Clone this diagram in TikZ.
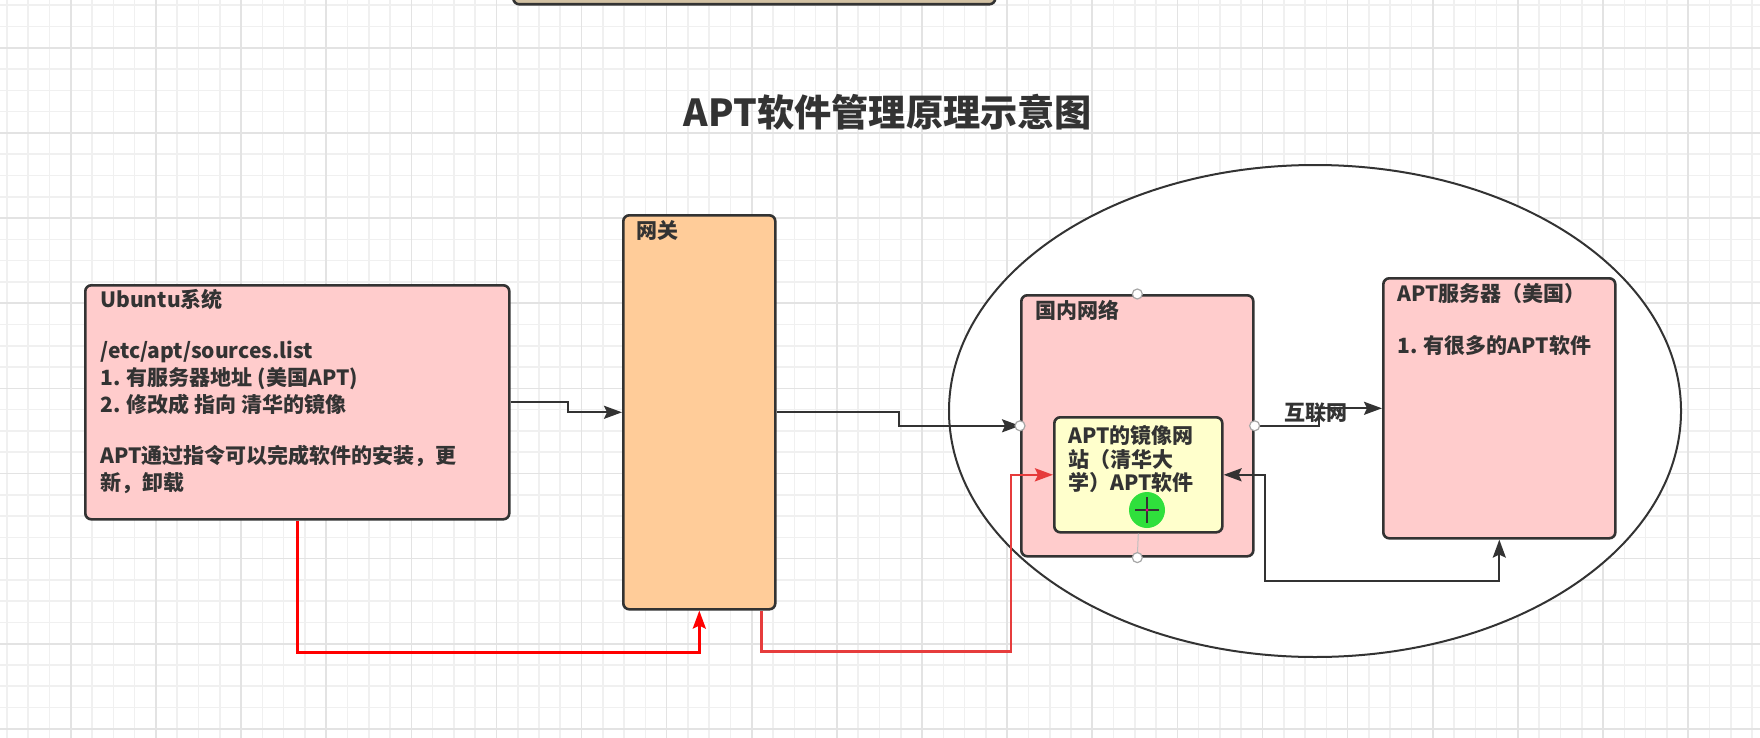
\documentclass[tikz,border=0pt]{standalone}
\usepackage{fontspec}
\setmainfont{Noto Sans CJK SC}
\usepackage{tikz}
\usetikzlibrary{arrows.meta,positioning,calc,shapes.geometric}
\usepackage{xcolor}
\definecolor{ink}{HTML}{333333}
\definecolor{pinkbg}{HTML}{FFCCCC}
\definecolor{peachbg}{HTML}{FFCC99}
\definecolor{yellowbg}{HTML}{FFFFCC}
\definecolor{tanbg}{HTML}{D2C1A3}
\definecolor{gridmin}{HTML}{F0F0F0}
\definecolor{gridmaj}{HTML}{E3E3E3}
\definecolor{redA}{HTML}{FF0000}
\definecolor{redB}{HTML}{E63C3C}
\definecolor{cursorgr}{HTML}{2FE03C}

\begin{document}
\begin{tikzpicture}[x=0.5pt,y=-0.5pt,
  box/.style={draw=ink,line width=1.3pt,rounded corners=3pt,anchor=north west,inner sep=0pt},
  txt/.style={anchor=north west,inner sep=0pt,align=left,text=ink,font=\bfseries\fontsize{10.5pt}{13.5pt}\selectfont},
  conn/.style={draw=ink,line width=1.1pt},
  redconn/.style={line width=1.3pt},
  handle/.style={circle,draw=gray!70,fill=white,line width=0.6pt,inner sep=0pt,minimum size=5pt},
  >={Stealth[length=9pt,width=6.5pt,inset=1.5pt]}]
  \useasboundingbox (0,0) rectangle (1760,738);
  \clip (0,0) rectangle (1760,738);
  % grid
  \foreach \i in {0,...,82} \draw[gridmin,line width=0.8pt] ({7+21.28*\i},0) -- ++(0,738);
  \foreach \i in {0,...,34} \draw[gridmin,line width=0.8pt] (0,{5.3+21.28*\i}) -- ++(1760,0);
  \foreach \i in {0,...,19} \draw[gridmaj,line width=0.8pt] ({70.84+85.12*\i},0) -- ++(0,738);
  \foreach \i in {0,...,8} \draw[gridmaj,line width=0.8pt] (0,{47.9+85.12*\i}) -- ++(1760,0);

  \node[box,fill=tanbg,minimum width=241pt,minimum height=12pt] (topbox) at (512,-21) {};
  \node[text=ink,font=\bfseries\fontsize{18.6pt}{22pt}\selectfont] (title) at (888,112) {APT软件管理原理示意图};

  \node[ellipse,draw=ink,fill=white,line width=1pt,minimum width=366pt,minimum height=246pt,inner sep=0pt] (region) at (1315,411) {};

  \node[box,fill=pinkbg,minimum width=212pt,minimum height=117pt] (ubuntu) at (84,284) {};
  \node[box,fill=peachbg,minimum width=76pt,minimum height=197pt] (gateway) at (622,214) {};
  \node[box,fill=pinkbg,minimum width=116pt,minimum height=130.5pt] (domestic) at (1020,294) {};
  \node[box,fill=yellowbg,minimum width=84pt,minimum height=57.5pt] (mirror) at (1053,416) {};
  \node[box,fill=pinkbg,minimum width=116pt,minimum height=130pt] (server) at (1382,277) {};

  \node[txt] (ubuntutxt) at (100,289) {Ubuntu系统\\[12pt]/etc/apt/sources.list\\1. 有服务器地址 (美国APT)\\2. 修改成 指向 清华的镜像\\[12pt]APT通过指令可以完成软件的安装，更\\新，卸载};
  \node[txt] (gatewaytxt) at (636,220) {网关};
  \node[txt] (domestictxt) at (1035,300) {国内网络};
  \node[txt,font=\bfseries\fontsize{10.5pt}{11.75pt}\selectfont] (mirrortxt) at (1068,425) {APT的镜像网\\站（清华大\\学）APT软件};
  \node[txt,font=\bfseries\fontsize{10.5pt}{13pt}\selectfont] (servertxt) at (1397,283) {APT服务器（美国）\\[13pt]1. 有很多的APT软件};
  \node[text=ink,font=\bfseries\fontsize{10.5pt}{12pt}\selectfont,inner sep=0pt] (inet) at (1316,413) {互联网};

  \draw[conn,->] (ubuntu.east) -- ++(57,0) |- (gateway.west);
  \draw[conn,->] (gateway.east) -- ++(122,0) |- (domestic.west);
  \draw[conn,->] (domestic.east) -- ++(64,0) |- (server.west);
  \coordinate (backturn) at ($(mirror.east)+(41,106.5)$);
  \draw[conn,<->] (mirror.east) -| (backturn) -| (server.south);
  \draw[redconn,redA,->] (ubuntu.south) |- ($(gateway.south)+(0,42)$) -- (gateway.south);
  \draw[redconn,redB,->] ($(gateway.south east)+(-15,0)$) -- ++(0,41) -| ($(mirror.west)+(-42,0)$) -- (mirror.west);

  \draw[gray!50,line width=0.5pt] (mirror.south) -- (domestic.south);
  \foreach \a in {north,south,east,west} \node[handle] (h\a) at (domestic.\a) {};

  % mouse pointer
  \fill[cursorgr] (1147,510) circle (9pt);
  \draw[ink,line width=0.8pt] (1135,510) -- (1159,510) (1147,497) -- (1147,523);
  \fill[magenta] (1147,510) circle (0.8pt);
\end{tikzpicture}
\end{document}
